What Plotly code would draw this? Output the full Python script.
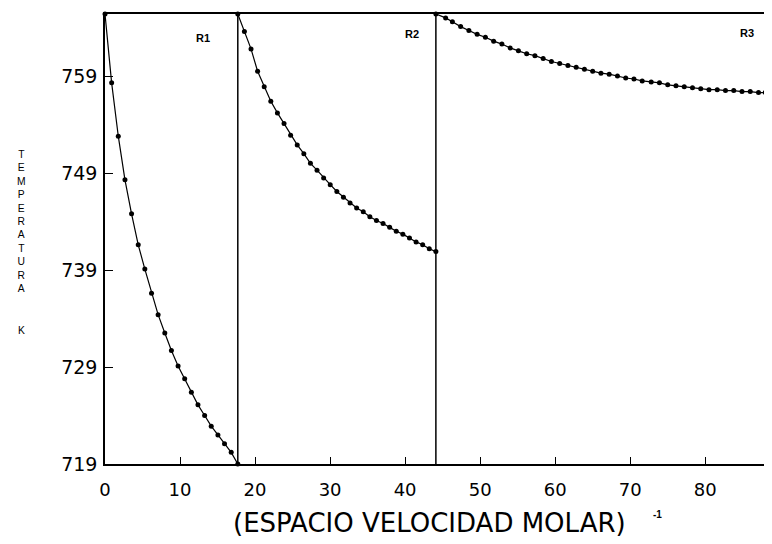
import plotly.graph_objects as go

# Reactor 1
r1_x = [0.0, 0.885, 1.77, 2.66, 3.54, 4.43, 5.31, 6.2, 7.08, 7.97, 8.85, 9.74, 10.62, 11.51, 12.39, 13.28, 14.16, 15.05, 15.93, 16.82, 17.7]
r1_t = [765.4, 758.3, 752.8, 748.3, 744.8, 741.6, 739.1, 736.6, 734.4, 732.5, 730.7, 729.1, 727.8, 726.4, 725.1, 724.0, 722.9, 722.0, 721.1, 720.2, 719.0]

# Reactor 2
r2_x = [17.7, 18.58, 19.46, 20.34, 21.22, 22.1, 22.98, 23.86, 24.74, 25.62, 26.5, 27.38, 28.26, 29.14, 30.02, 30.9,
        31.78, 32.66, 33.54, 34.42, 35.3, 36.18, 37.06, 37.94, 38.82, 39.7, 40.58, 41.46, 42.34, 43.22, 44.1]
r2_t = [765.4, 763.6, 761.8, 759.5, 757.9, 756.4, 755.2, 754.1, 752.9, 751.9, 751.0, 750.0, 749.3, 748.5, 747.8, 747.1,
        746.5, 745.9, 745.4, 745.0, 744.5, 744.1, 743.8, 743.4, 743.0, 742.7, 742.3, 741.9, 741.6, 741.2, 740.9]

# Reactor 3
r3_x = [44.1, 45.4, 46.3, 47.4, 48.5, 49.6, 50.7, 51.8, 52.9, 54.0, 55.1, 56.2, 57.3, 58.4, 59.5, 60.6, 61.7, 62.8, 63.9, 65.0,
        66.1, 67.2, 68.3, 69.4, 70.5, 71.6, 72.8, 73.9, 75.0, 76.1, 77.2, 78.3, 79.4, 80.5, 81.6, 82.7, 83.8, 84.9, 86.0, 87.1, 88.0]
r3_t = [765.4, 765.0, 764.6, 764.1, 763.7, 763.3, 763.0, 762.6, 762.3, 761.9, 761.6, 761.3, 761.1, 760.8, 760.5, 760.3, 760.1, 759.9, 759.7, 759.5,
        759.3, 759.2, 759.0, 758.8, 758.7, 758.5, 758.4, 758.3, 758.1, 758.0, 757.9, 757.8, 757.7, 757.6, 757.6, 757.5, 757.5, 757.4, 757.4, 757.3, 757.3]

boundaries = [17.7, 44.1]
region_labels = ["R1", "R2", "R3"]
region_label_x = [13.1, 40.9, 85.6]
region_label_t = [762.9, 763.3, 763.4]

x_ticks = [0, 10, 20, 30, 40, 50, 60, 70, 80]
y_ticks = [719, 729, 739, 749, 759]
y_min, y_max = 719, 765.4
x_min, x_max = 0, 88.1

FONT = "DejaVu Sans"

fig = go.Figure()
for xs, ts in [(r1_x, r1_t), (r2_x, r2_t), (r3_x, r3_t)]:
    fig.add_trace(go.Scatter(x=xs, y=ts, mode="lines+markers",
                             line=dict(color="black", width=1.2),
                             marker=dict(color="black", size=5),
                             cliponaxis=False, showlegend=False))

for b in boundaries:
    fig.add_shape(type="line", x0=b, x1=b, y0=y_min, y1=y_max, xref="x", yref="y",
                  line=dict(color="black", width=1.5))

for lab, lx, lt in zip(region_labels, region_label_x, region_label_t):
    fig.add_annotation(x=lx, y=lt, text="<b>" + lab + "</b>", showarrow=False,
                       font=dict(family="Liberation Sans", size=11, color="black"))

fig.add_annotation(x=43.3, xref="x", y=-0.131, yref="paper", xanchor="center", yanchor="middle",
                   text="(ESPACIO VELOCIDAD MOLAR)",
                   showarrow=False, font=dict(family=FONT, size=26, color="black"))
fig.add_annotation(x=73.6, xref="x", y=-0.113, yref="paper", xanchor="center", yanchor="middle",
                   text="<b>-1</b>",
                   showarrow=False, font=dict(family="Liberation Sans", size=10, color="black"))
fig.add_annotation(x=-0.127, xref="paper", y=0.538, yref="paper", xanchor="center", yanchor="middle",
                   text="<br>".join(list("TEMPERATURA")), showarrow=False,
                   font=dict(family="Liberation Sans", size=10.3, color="black"))
fig.add_annotation(x=-0.127, xref="paper", y=0.297, yref="paper", xanchor="center", yanchor="middle",
                   text="K", showarrow=False,
                   font=dict(family="Liberation Sans", size=10.3, color="black"))

fig.update_xaxes(range=[x_min, x_max], tickvals=x_ticks, ticktext=[str(v) for v in x_ticks],
                 ticks="inside", ticklen=7, tickcolor="black", tickwidth=1,
                 showline=True, linecolor="black", linewidth=1.5, mirror=True,
                 showgrid=False, zeroline=False, ticklabelstandoff=9,
                 tickfont=dict(family=FONT, size=18, color="black"))
fig.update_yaxes(range=[y_min, y_max], tickvals=y_ticks, ticktext=[str(v) for v in y_ticks],
                 ticks="inside", ticklen=8, tickcolor="black", tickwidth=1,
                 showline=True, linecolor="black", linewidth=1.5, mirror=True,
                 showgrid=False, zeroline=False, ticklabelstandoff=2,
                 tickfont=dict(family=FONT, size=19, color="black"))

fig.update_layout(width=764, height=536, margin=dict(l=97, r=4, t=5, b=80),
                  plot_bgcolor="white", paper_bgcolor="white")

fig.write_html("out.html")
